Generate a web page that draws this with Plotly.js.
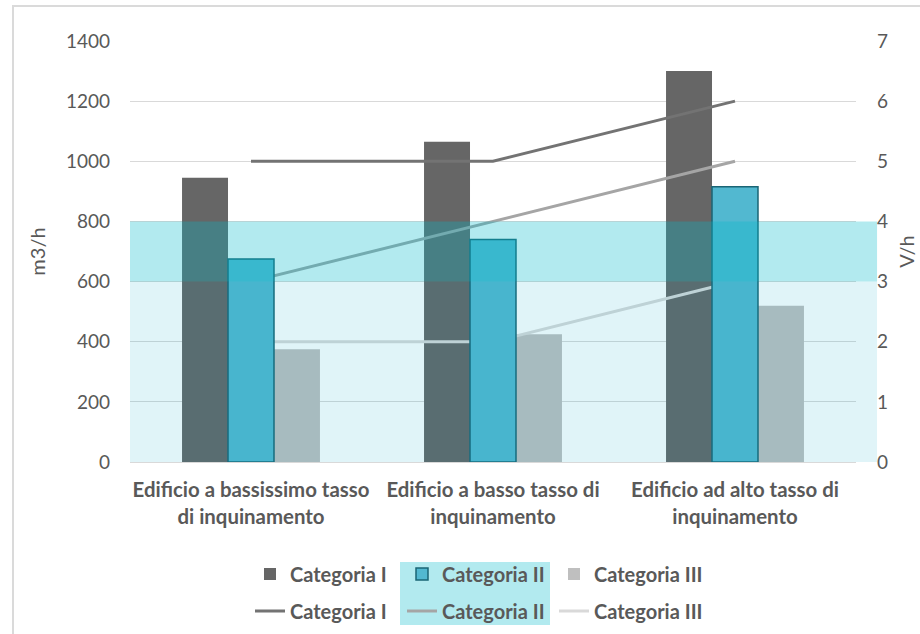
<!DOCTYPE html>
<html><head><meta charset="utf-8">
<script src="https://cdn.plot.ly/plotly-3.0.1.min.js"></script>
<style>
html,body{margin:0;padding:0;background:#fff;}
#frame{position:absolute;left:12px;top:5px;width:930px;height:650px;border:2px solid #dadada;pointer-events:none;box-sizing:border-box;}
</style>
</head><body>
<div id="chart" style="position:absolute;left:0;top:0;width:920px;height:634px;"></div>
<div id="frame"></div>
<script>
// ---- data ----
const categories = [
  'Edificio a bassissimo tasso<br>di inquinamento',
  'Edificio a basso tasso di<br>inquinamento',
  'Edificio ad alto tasso di<br>inquinamento'
];
const seriesNames = ['Categoria I', 'Categoria II', 'Categoria III'];
const barCatI   = [945, 1065, 1300];
const barCatII  = [675, 740, 915];
const barCatIII = [375, 425, 520];
const lineCatI   = [5, 5, 6];
const lineCatII  = [3, 4, 5];
const lineCatIII = [2, 2, 3];
const bandLight  = [0, 600];
const bandStrong = [600, 800];

const FONT = 'Lato, "Open Sans", sans-serif';
const TXT = '#595959';
const BW = 0.19;

const traces = [
  {type:'bar', name:seriesNames[0], x:categories, y:barCatI, yaxis:'y',
   width:BW, offset:-0.285, marker:{color:'#666666'}, legend:'legend', legendrank:1},
  {type:'bar', name:seriesNames[2], x:categories, y:barCatIII, yaxis:'y',
   width:BW, offset:0.095, marker:{color:'#bfbfbf'}, legend:'legend', legendrank:3},
  {type:'scatter', mode:'lines', name:seriesNames[0], x:categories, y:lineCatI, yaxis:'y2',
   line:{color:'#737373', width:3}, legend:'legend2', legendrank:1},
  {type:'scatter', mode:'lines', name:seriesNames[1], x:categories, y:lineCatII, yaxis:'y2',
   line:{color:'#a5a5a5', width:3}, legend:'legend2', legendrank:2},
  {type:'scatter', mode:'lines', name:seriesNames[2], x:categories, y:lineCatIII, yaxis:'y2',
   line:{color:'#d9d9d9', width:3}, legend:'legend2', legendrank:3},
  {type:'bar', name:seriesNames[1], x:categories, y:barCatII, yaxis:'y3',
   width:BW, offset:-0.095, marker:{color:'#52b8d0', line:{color:'#1a6575', width:1.5}},
   legend:'legend', legendrank:2}
];

const legendBase = {
  orientation:'h', xref:'container', yref:'container', xanchor:'left', yanchor:'middle',
  bgcolor:'rgba(0,0,0,0)', font:{family:FONT, size:20, color:TXT, weight:'bold'},
  entrywidth:107, itemwidth:30, traceorder:'normal'
};

const layout = {
  width:920, height:634,
  margin:{l:130, r:64, t:41, b:172},
  paper_bgcolor:'#ffffff', plot_bgcolor:'#ffffff',
  barmode:'overlay',
  showlegend:true,
  font:{family:FONT, color:TXT},
  xaxis:{type:'category', range:[-0.5, 2.5], showline:true, linecolor:'#d9d9d9', linewidth:1,
         ticks:'', showgrid:false, tickfont:{family:FONT, size:20.4, color:TXT, weight:'bold'},
         ticklabelstandoff:10, fixedrange:true},
  yaxis:{range:[0,1400], dtick:200, showgrid:true, gridcolor:'#d9d9d9', gridwidth:1,
         zeroline:false, showline:false, ticks:'', tickfont:{family:FONT, size:19, color:TXT},
         ticklabelstandoff:19, title:{text:'m3/h', font:{family:FONT, size:20, color:TXT}, standoff:14}},
  yaxis2:{overlaying:'y', side:'right', range:[0,7], dtick:1, showgrid:false, zeroline:false,
          showline:false, ticks:'', tickfont:{family:FONT, size:19, color:TXT},
          ticklabelstandoff:20, title:{text:'V/h', font:{family:FONT, size:20, color:TXT}, standoff:12}},
  yaxis3:{overlaying:'y', range:[0,1400], visible:false, showgrid:false},
  legend:Object.assign({}, legendBase, {x:250/920, y:1-574/634}),
  legend2:Object.assign({}, legendBase, {x:250/920, y:1-611/634}),
  shapes:[
    {type:'rect', layer:'above', xref:'paper', yref:'y', x0:0, x1:1.029, y0:bandLight[0], y1:bandLight[1],
     fillcolor:'rgba(0,164,197,0.122)', line:{width:0}},
    {type:'rect', layer:'above', xref:'paper', yref:'y', x0:0, x1:1.029, y0:bandStrong[0], y1:bandStrong[1],
     fillcolor:'rgba(0,185,202,0.30)', line:{width:0}},
    {type:'rect', layer:'above', xref:'paper', yref:'paper', x0:(400-130)/726, x1:(550-130)/726,
     y0:(462-625)/421, y1:(462-562)/421, fillcolor:'rgba(0,185,202,0.30)', line:{width:0}}
  ]
};

Plotly.newPlot('chart', traces, layout, {displayModeBar:false, staticPlot:true});
</script>
</body></html>
